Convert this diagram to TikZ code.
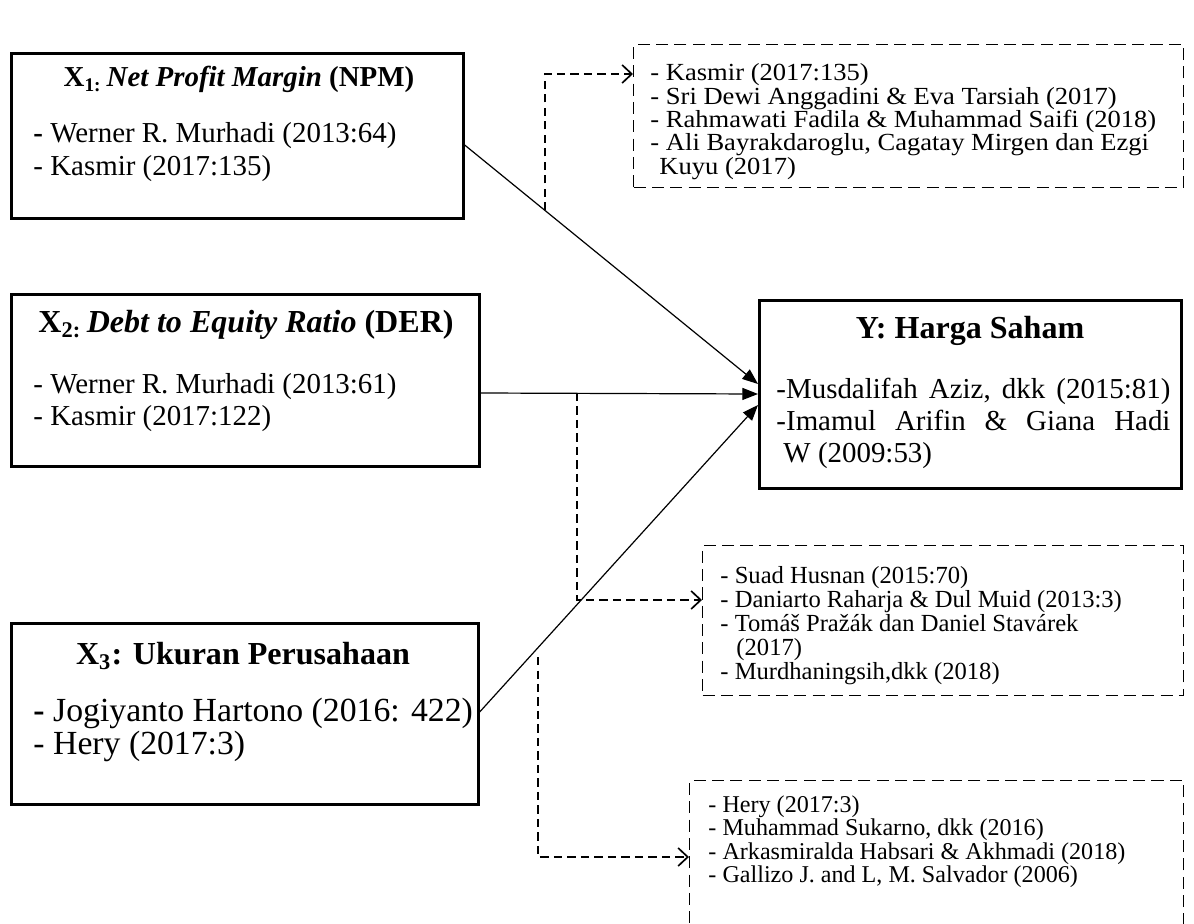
\documentclass[tikz,border=0pt]{standalone}
\usepackage{fontspec}
\setmainfont{Liberation Serif}
\newfontfamily\widefont[FakeStretch=1.08]{Liberation Serif}
\usetikzlibrary{arrows.meta,calc}
\newlength\pxu \setlength\pxu{0.415pt}
\tikzset{
  varbox/.style={draw, line width=1.1pt, rectangle, inner sep=0pt, anchor=north west},
  refbox/.style={draw, line width=0.6pt, dash pattern=on 5pt off 2.6pt, rectangle, inner sep=0pt, anchor=north west},
  txt/.style={inner sep=0pt, anchor=base west},
  ttl/.style={inner sep=0pt, anchor=base},
  link/.style={line width=0.5pt, -{Triangle[length=6.5pt,width=5pt]}},
  reflink/.style={line width=0.7pt, dash pattern=on 3.4pt off 2.2pt, -{Straight Barb[length=4pt,width=7.5pt,line width=0.7pt]}},
}
\begin{document}
\setlength\lineskiplimit{-100pt}
\begin{tikzpicture}[x=0.415pt,y=-0.415pt]
\useasboundingbox (0,0) rectangle (1194,924);
\fill[white] (0,0) rectangle (1194,924);
\clip (0,0) rectangle (1194,924);

% variable boxes
\node[varbox, minimum width=452\pxu, minimum height=165\pxu] (x1) at (10,52) {};
\node[varbox, minimum width=468\pxu, minimum height=172\pxu] (x2) at (10,293) {};
\node[varbox, minimum width=467\pxu, minimum height=181\pxu] (x3) at (10,622) {};
\node[varbox, minimum width=422\pxu, minimum height=188\pxu] (y) at (758,299) {};

% reference boxes
\node[refbox, minimum width=550\pxu, minimum height=143\pxu] (r1) at (633,44) {};
\node[refbox, minimum width=481\pxu, minimum height=150\pxu] (r2) at (702,545) {};
\node[refbox, minimum width=494\pxu, minimum height=200\pxu] (r3) at (689,780) {};

% titles
\node[ttl, font=\fontsize{12}{14}\selectfont\bfseries] (x1t) at (239,87)
  {X\textsubscript{1:}\,\textit{Net Profit Margin} (NPM)};
\node[ttl, font=\fontsize{13.3}{15}\selectfont\bfseries] (x2t) at (246,332)
  {X\textsubscript{2:}\,\textit{Debt to Equity Ratio} (DER)};
\node[ttl, font=\fontsize{13.3}{15}\selectfont\bfseries] (x3t) at (243,664)
  {X\textsubscript{3}: Ukuran Perusahaan};
\node[ttl, font=\fontsize{13.3}{15}\selectfont\bfseries] (yt) at (970,338)
  {Y: Harga Saham};

% body texts
\node[txt, font=\fontsize{12}{33\pxu}\selectfont] (x1b) at (33,142)
  {\vtop{\hbox{\textbf{-} Werner R. Murhadi (2013:64)}\hbox{- Kasmir (2017:135)}}};
\node[txt, font=\fontsize{12}{32\pxu}\selectfont] (x2b) at (33,393)
  {\vtop{\hbox{- Werner R. Murhadi (2013:61)}\hbox{- Kasmir (2017:122)}}};
\node[txt, font=\fontsize{14}{33\pxu}\selectfont] (x3b) at (33,721)
  {\vtop{\hbox{\textbf{-} Jogiyanto Hartono (2016: 422)}\hbox{- Hery (2017:3)}}};
\node[txt, font=\fontsize{12}{32\pxu}\selectfont] (yb) at (776,398)
  {\vtop{\hbox to 394\pxu{-Musdalifah\hfill Aziz,\hfill dkk\hfill (2015:81)}%
         \hbox to 394\pxu{-Imamul\hfill Arifin\hfill \&\hfill Giana\hfill Hadi}%
         \hbox{\hspace{7\pxu}W (2009:53)}}};

\node[txt, font=\widefont\fontsize{10.2}{23.3\pxu}\selectfont] (r1b) at (650,81)
  {\vtop{\hbox{- Kasmir (2017:135)}\hbox{- Sri Dewi Anggadini \& Eva Tarsiah (2017)}%
         \hbox{- Rahmawati Fadila \& Muhammad Saifi (2018)}%
         \hbox{- Ali Bayrakdaroglu, Cagatay Mirgen dan Ezgi}\hbox{\hspace{9\pxu}Kuyu (2017)}}};
\node[txt, font=\fontsize{10.2}{24\pxu}\selectfont] (r2b) at (720,583)
  {\vtop{\hbox{- Suad Husnan (2015:70)}\hbox{- Daniarto Raharja \& Dul Muid (2013:3)}%
         \hbox{- Tomáš Pražák dan Daniel Stavárek}\hbox{\hspace{16\pxu}(2017)}%
         \hbox{- Murdhaningsih,dkk (2018)}}};
\node[txt, font=\fontsize{10}{23.5\pxu}\selectfont] (r3b) at (708,812)
  {\vtop{\hbox{- Hery (2017:3)}\hbox{- Muhammad Sukarno, dkk (2016)}%
         \hbox{- Arkasmiralda Habsari \& Akhmadi (2018)}%
         \hbox{- Gallizo J. and L, M. Salvador (2006)}}};

% connector end points
\coordinate (a1s) at (x1.east |- 0,145);
\coordinate (a1e) at (y.west |- 0,384);
\coordinate (a2s) at (x2.east |- 0,393);
\coordinate (a2e) at (y.west |- 0,394);
\coordinate (a3s) at (x3.east |- 0,712);
\coordinate (a3e) at (y.west |- 0,405);

\draw[link] (a1s) -- (a1e);
\draw[link] (a2s) -- (a2e);
\draw[link] (a3s) -- (a3e);

% dashed links
\coordinate (d1s) at ($(a1s)!0.2736!(a1e)$);
\coordinate (d2s) at (577,393);
\coordinate (d3s) at (538,657);
\draw[reflink] (d1s) |- (r1.west |- 0,74);
\draw[reflink] (d2s) |- (r2.west |- 0,600);
\draw[reflink] (d3s) |- (r3.west |- 0,857);
\end{tikzpicture}
\end{document}
